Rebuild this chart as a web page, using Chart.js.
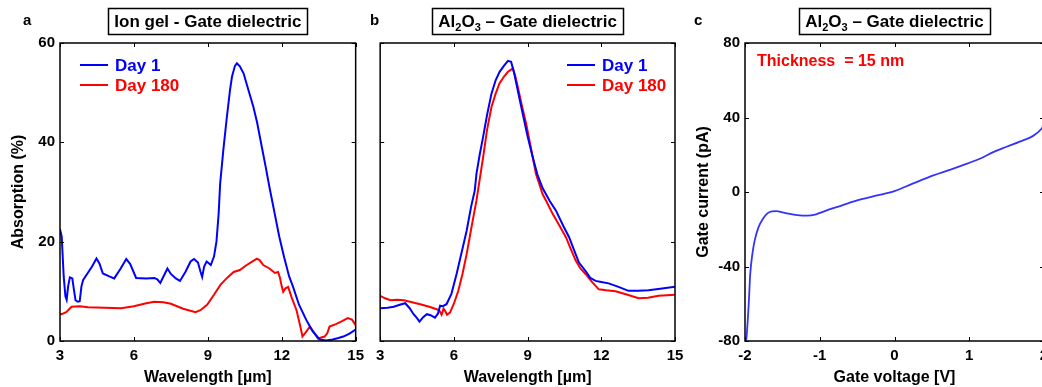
<!DOCTYPE html>
<html>
<head>
<meta charset="utf-8">
<script src="https://cdn.jsdelivr.net/npm/chart.js@4.4.0/dist/chart.umd.min.js"></script>
<style>
body { margin: 0; background: #fff; overflow: hidden; width: 1042px; height: 387px; position: relative; }
.panel { position: absolute; top: 0; height: 387px; }
</style>
</head>
<body>
<div class="panel" style="left:0;width:370px"><canvas id="chartA" width="370" height="387"></canvas></div>
<div class="panel" style="left:370px;width:320px"><canvas id="chartB" width="320" height="387"></canvas></div>
<div class="panel" style="left:680px;width:380px"><canvas id="chartC" width="380" height="387"></canvas></div>
<script>
// panel a - ion gel
const aDay1Wl  = [3.0, 3.07, 3.15, 3.22, 3.27, 3.33, 3.4, 3.5, 3.56, 3.63, 3.72, 3.8, 3.87, 3.94, 4.14, 4.3, 4.48, 4.6, 4.74, 5.0, 5.2, 5.45, 5.69, 5.85, 6.09, 6.5, 6.83, 6.95, 7.07, 7.25, 7.36, 7.5, 7.7, 7.87, 8.1, 8.3, 8.44, 8.6, 8.7, 8.77, 8.85, 8.95, 9.05, 9.12, 9.25, 9.35, 9.44, 9.5, 9.63, 9.77, 9.9, 9.98, 10.1, 10.18, 10.3, 10.45, 10.65, 10.85, 11.0, 11.19, 11.35, 11.5, 11.7, 11.9, 12.1, 12.3, 12.46, 12.7, 13.0, 13.25, 13.54, 13.8, 14.07, 14.3, 14.5, 14.75, 15.0];
const aDay1Abs = [22.5, 21, 13, 9, 8.3, 11, 12.8, 12.6, 10.5, 8.2, 7.9, 8.0, 11, 12.3, 13.8, 15, 16.6, 15.6, 13.6, 13, 12.6, 14.5, 16.5, 15.5, 12.7, 12.6, 12.7, 12.4, 11.7, 13.5, 14.6, 13.5, 12.6, 12.1, 14, 16, 16.5, 15.8, 14, 12.9, 15, 16, 15.6, 15.3, 17, 20, 25.7, 31.7, 38.5, 45, 50.5, 53.2, 55.4, 55.9, 55.3, 53.9, 50.5, 47.1, 44, 39.1, 35, 31, 26, 21, 16.8, 13, 10.9, 7.3, 4.2, 2, 0.3, 0.1, 0.3, 0.6, 0.9, 1.5, 2.3];
const aDay180Wl  = [3.0, 3.07, 3.25, 3.47, 3.8, 4.14, 4.8, 5.48, 6.0, 6.5, 6.83, 7.2, 7.5, 8.0, 8.5, 8.7, 8.97, 9.25, 9.51, 9.8, 10.05, 10.3, 10.58, 10.8, 10.99, 11.1, 11.25, 11.5, 11.72, 11.85, 11.92, 12.0, 12.06, 12.15, 12.26, 12.4, 12.6, 12.75, 12.84, 12.95, 13.14, 13.3, 13.47, 13.74, 13.85, 13.94, 14.2, 14.45, 14.68, 14.85, 15.0];
const aDay180Abs = [5.5, 5.4, 5.8, 6.9, 7.0, 6.8, 6.7, 6.6, 7.0, 7.6, 7.9, 7.8, 7.5, 6.5, 5.8, 6.2, 7.3, 9.3, 11.3, 12.8, 13.9, 14.3, 15.3, 16, 16.6, 16.3, 15.3, 14.6, 13.7, 13.9, 12.9, 11, 9.9, 10.6, 10.9, 8.8, 6.2, 3, 0.9, 1.6, 2.9, 1.8, 0.5, 0.9, 1.6, 2.9, 3.4, 4, 4.6, 4.3, 3.2];

// panel b - Al2O3
const bDay1Wl  = [3.0, 3.3, 3.55, 3.8, 4.02, 4.2, 4.36, 4.5, 4.6, 4.75, 4.9, 5.05, 5.23, 5.35, 5.44, 5.55, 5.7, 5.9, 6.11, 6.3, 6.52, 6.7, 6.85, 6.92, 7.05, 7.19, 7.35, 7.53, 7.7, 7.86, 8.05, 8.2, 8.33, 8.45, 8.54, 8.67, 8.8, 9.0, 9.21, 9.4, 9.61, 9.9, 10.15, 10.45, 10.69, 10.9, 11.09, 11.36, 11.55, 11.77, 12.0, 12.3, 12.7, 13.11, 13.5, 13.92, 14.4, 15.0];
const bDay1Abs = [6.6, 6.7, 6.9, 7.3, 7.6, 6.6, 5.4, 4.6, 3.9, 4.8, 5.4, 5.2, 4.7, 5.5, 7.1, 7.0, 7.4, 9.5, 13.5, 17.5, 22.2, 27, 30.3, 33.7, 37.5, 41.1, 45.5, 49.8, 52.5, 54.2, 55.5, 56.4, 56.2, 54, 51.9, 48.8, 45.8, 41.2, 37, 33.5, 30.8, 28.2, 26.3, 23.2, 20.9, 18.2, 15.8, 14.1, 12.7, 12.1, 11.9, 11.6, 10.9, 10.1, 10.1, 10.2, 10.5, 10.9];
const bDay180Wl  = [3.0, 3.2, 3.42, 3.7, 3.96, 4.3, 4.63, 5.0, 5.3, 5.4, 5.5, 5.58, 5.64, 5.72, 5.84, 6.0, 6.18, 6.35, 6.52, 6.72, 6.92, 7.05, 7.19, 7.35, 7.53, 7.7, 7.86, 8.05, 8.2, 8.4, 8.5, 8.6, 8.75, 8.94, 9.15, 9.34, 9.61, 9.8, 10.02, 10.3, 10.56, 10.76, 10.96, 11.15, 11.36, 11.6, 11.9, 12.2, 12.58, 13.0, 13.52, 13.9, 14.33, 15.0];
const bDay180Abs = [9.1, 8.6, 8.2, 8.3, 8.2, 7.8, 7.4, 6.9, 6.4, 6.2, 5.3, 6.5, 6.1, 5.3, 5.7, 7.5, 10.1, 13.5, 17.5, 23, 28.3, 32.5, 37, 42.5, 47.1, 49.8, 51.9, 53.3, 54.2, 54.9, 53.3, 51.2, 47.8, 43.8, 38.5, 33.7, 29.6, 27.8, 25.6, 23.2, 20.9, 18.5, 16.2, 14.6, 13.5, 12, 10.4, 10.2, 10.0, 9.4, 8.6, 8.7, 9.1, 9.3];

// panel c - leakage current
const cVoltage = [-2.0, -1.98, -1.95, -1.93, -1.9, -1.87, -1.82, -1.76, -1.7, -1.64, -1.58, -1.5, -1.4, -1.3, -1.17, -1.05, -0.95, -0.75, -0.51, -0.25, 0, 0.25, 0.52, 0.75, 0.97, 1.15, 1.32, 1.5, 1.72, 1.85, 1.97, 2.0];
const cCurrent = [-82, -78, -60, -44, -33, -26, -19, -14.4, -11.5, -10.4, -10.3, -10.9, -11.8, -12.4, -12.7, -12.0, -10.5, -7.8, -4.6, -2.0, 0.5, 4.6, 8.9, 12, 15.2, 18, 21.4, 24.3, 27.7, 30, 34.1, 36];

const wlTicks = [3, 6, 9, 12, 15];
const absTicks = [0, 20, 40, 60];
const vTicks = [-2, -1, 0, 1, 2];
const iTicks = [-80, -40, 0, 40, 80];

const FONT = "'Liberation Sans', Arial, sans-serif";
Chart.defaults.font.family = FONT;
Chart.defaults.font.weight = 'bold';
Chart.defaults.color = '#000';

function pts(xs, ys) {
    return xs.map((x, i) => ({ x: x, y: ys[i] }));
}

// MATLAB style box, inward ticks, boxed title, legend and notes
const matlabFrame = {
    id: 'matlabFrame',
    afterDatasetsDraw(chart, args, opts) {
        const ctx = chart.ctx;
        const a = chart.chartArea;
        const sx = chart.scales.x, sy = chart.scales.y;
        ctx.save();
        ctx.strokeStyle = '#000';
        ctx.lineWidth = 1;
        ctx.beginPath();
        sx.ticks.forEach(t => {
            const x = Math.round(sx.getPixelForValue(t.value)) + 0.5;
            ctx.moveTo(x, a.bottom); ctx.lineTo(x, a.bottom - 4);
            ctx.moveTo(x, a.top); ctx.lineTo(x, a.top + 4);
        });
        sy.ticks.forEach(t => {
            const y = Math.round(sy.getPixelForValue(t.value)) + 0.5;
            ctx.moveTo(a.left, y); ctx.lineTo(a.left + 4, y);
            ctx.moveTo(a.right, y); ctx.lineTo(a.right - 4, y);
        });
        ctx.stroke();
        ctx.lineWidth = 1.5;
        ctx.strokeRect(a.left, a.top, a.right - a.left, a.bottom - a.top);

        // panel letter
        ctx.fillStyle = '#000';
        ctx.font = 'bold 15px ' + FONT;
        ctx.textBaseline = 'alphabetic';
        ctx.textAlign = 'left';
        ctx.fillText(opts.letter, opts.letterX, 25);

        // title in a box, with subscripts
        const big = 'bold 17px ' + FONT, small = 'bold 11px ' + FONT;
        let w = 0;
        opts.title.forEach(p => { ctx.font = p.sub ? small : big; w += ctx.measureText(p.t).width; });
        const cx = (a.left + a.right) / 2;
        let x = cx - w / 2;
        ctx.lineWidth = 1.5;
        ctx.strokeRect(Math.round(x - 6) + 0.5, 8.5, Math.round(w + 12), 26);
        ctx.textBaseline = 'alphabetic';
        opts.title.forEach(p => {
            ctx.font = p.sub ? small : big;
            ctx.fillText(p.t, x, p.sub ? 31 : 27);
            x += ctx.measureText(p.t).width;
        });

        // legend
        if (opts.legendX !== undefined) {
            ctx.font = 'bold 17px ' + FONT;
            ctx.textBaseline = 'middle';
            chart.data.datasets.forEach((ds, i) => {
                const y = 65 + i * 20;
                ctx.strokeStyle = ds.borderColor;
                ctx.lineWidth = 2;
                ctx.beginPath();
                ctx.moveTo(opts.legendX, y); ctx.lineTo(opts.legendX + 28, y);
                ctx.stroke();
                ctx.fillStyle = ds.borderColor;
                ctx.fillText(ds.label, opts.legendX + 35, y + 1);
            });
        }

        if (opts.note) {
            ctx.font = 'bold 16px ' + FONT;
            ctx.textBaseline = 'middle';
            ctx.fillStyle = '#ff0000';
            ctx.fillText(opts.note, opts.noteX, 62);
        }
        ctx.restore();
    }
};

function xAxis(min, max, ticks, title) {
    return {
        type: 'linear', min: min, max: max,
        afterBuildTicks: s => { s.ticks = ticks.map(v => ({ value: v })); },
        afterFit: s => { s.height = 46; },
        grid: { display: false, drawTicks: false },
        border: { display: false },
        ticks: { font: { size: 15, weight: 'bold' }, padding: 6, color: '#000', maxRotation: 0 },
        title: { display: true, text: title, font: { size: 16, weight: 'bold' }, color: '#000', padding: { top: 0, bottom: 0 } }
    };
}

function yAxis(min, max, ticks, title, width, showLabels, titlePad) {
    return {
        type: 'linear', min: min, max: max,
        afterBuildTicks: s => { s.ticks = ticks.map(v => ({ value: v })); },
        afterFit: s => { s.width = width; },
        grid: { display: false, drawTicks: false },
        border: { display: false },
        ticks: { display: showLabels, font: { size: 15, weight: 'bold' }, padding: 5, color: '#000' },
        title: { display: showLabels, text: title, font: { size: 16, weight: 'bold' }, color: '#000', padding: { top: titlePad, bottom: 0 } }
    };
}

function lineSet(label, data, color, width, smooth) {
    return {
        label: label, data: data, borderColor: color, backgroundColor: color,
        borderWidth: width, pointRadius: 0, fill: false,
        tension: 0, cubicInterpolationMode: smooth ? 'monotone' : 'default'
    };
}

function makeChart(id, datasets, scales, padRight, frameOpts) {
    return new Chart(document.getElementById(id), {
        type: 'line',
        data: { datasets: datasets },
        options: {
            responsive: false,
            animation: false,
            parsing: true,
            layout: { padding: { top: 43, right: padRight, bottom: 0, left: 0 } },
            scales: scales,
            plugins: {
                legend: { display: false },
                tooltip: { enabled: false },
                matlabFrame: frameOpts
            }
        },
        plugins: [matlabFrame]
    });
}

makeChart('chartA', [
    lineSet('Day 1', pts(aDay1Wl, aDay1Abs), '#0000ff', 2),
    lineSet('Day 180', pts(aDay180Wl, aDay180Abs), '#ff0000', 2)
], {
    x: xAxis(3, 15, wlTicks, 'Wavelength [µm]'),
    y: yAxis(0, 60, absTicks, 'Absorption (%)', 60, true, 9)
}, 12, {
    letter: 'a', letterX: 23,
    title: [{ t: 'Ion gel - Gate dielectric' }],
    legendX: 80
});

makeChart('chartB', [
    lineSet('Day 1', pts(bDay1Wl, bDay1Abs), '#0000ff', 2),
    lineSet('Day 180', pts(bDay180Wl, bDay180Abs), '#ff0000', 2)
], {
    x: xAxis(3, 15, wlTicks, 'Wavelength [µm]'),
    y: yAxis(0, 60, absTicks, '', 8, false, 0)
}, 15, {
    letter: 'b', letterX: 0,
    title: [{ t: 'Al' }, { t: '2', sub: true }, { t: 'O' }, { t: '3', sub: true }, { t: ' – Gate dielectric' }],
    legendX: 197
});

makeChart('chartC', [
    lineSet('Gate current', pts(cVoltage, cCurrent), '#3333ff', 1.8, true)
], {
    x: xAxis(-2, 2, vTicks, 'Gate voltage [V]'),
    y: yAxis(-80, 80, iTicks, 'Gate current (pA)', 65, true, 14)
}, 16, {
    letter: 'c', letterX: 14,
    title: [{ t: 'Al' }, { t: '2', sub: true }, { t: 'O' }, { t: '3', sub: true }, { t: ' – Gate dielectric' }],
    note: 'Thickness  = 15 nm', noteX: 77
});
</script>
</body>
</html>
